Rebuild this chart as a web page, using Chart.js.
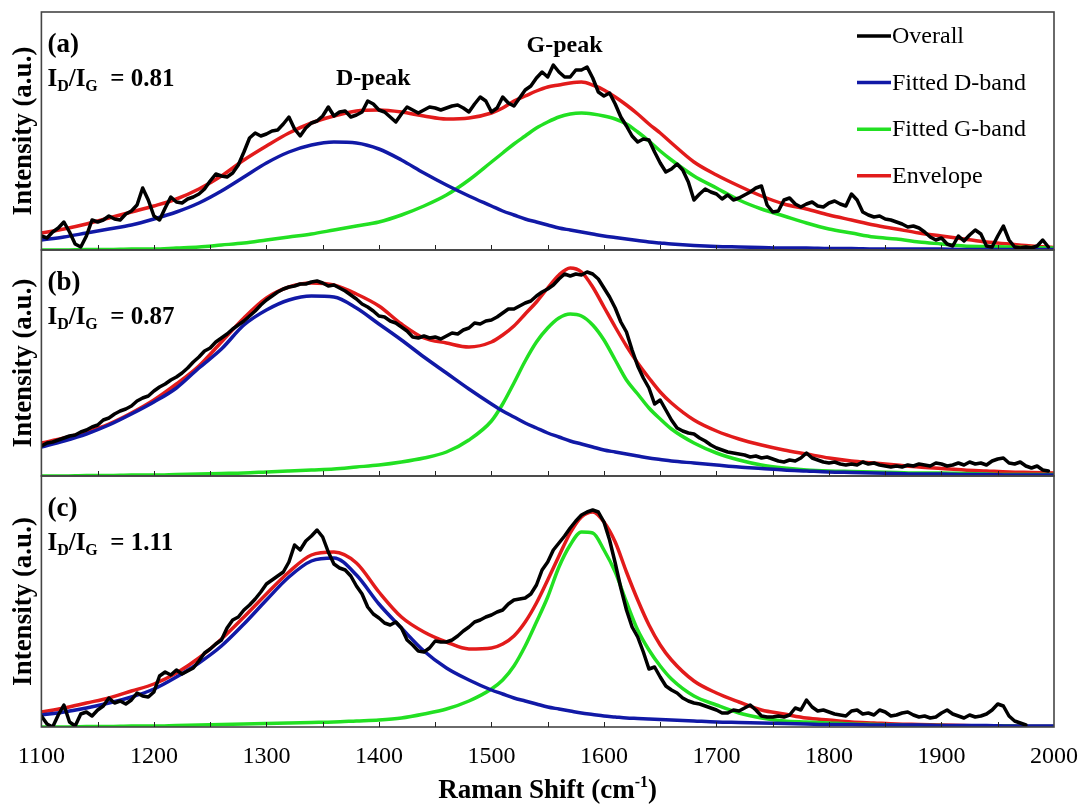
<!DOCTYPE html>
<html lang="en">
<head>
<meta charset="utf-8">
<title>Raman spectra - D/G band fitting</title>
<script src="https://cdn.jsdelivr.net/npm/chart.js@4.4.1/dist/chart.umd.min.js"></script>
<style>
  html, body { margin: 0; padding: 0; background: #ffffff; overflow: hidden; }
  #chart-raman { display: block; }
</style>
</head>
<body>
<canvas id="chart-raman" width="1087" height="805"></canvas>
<script>
(function () {
  "use strict";

  var SERIF = "'Liberation Serif', 'Times New Roman', serif";

  // Raman shift (cm-1) of the fitted curves, finer across the G band
  var fitShift = [1100, 1120, 1140, 1160, 1180, 1200, 1220, 1240, 1260, 1280, 1300, 1320, 1340, 1360, 1380, 1400, 1420, 1440, 1460, 1480, 1500,
    1510, 1520, 1530, 1540, 1550, 1560, 1570, 1580, 1590, 1600, 1610, 1620, 1630, 1640, 1650,
    1660, 1680, 1700, 1720, 1740, 1760, 1780, 1800, 1820, 1840, 1860, 1880, 1900, 1920, 1940, 1960, 1980, 2000];

  // measured spectra: first point at 1100 cm-1, one point every 5 cm-1
  var rawStart = 1100;
  var rawStep = 5;

  // (a)
  var overallA = [14, 12, 18, 22, 28, 18, 6, 3, 14, 30,
    28, 30, 34, 31, 30, 36, 39, 45, 62, 50,
    34, 30, 42, 53, 48, 47, 51, 53, 56, 61,
    69, 76, 74, 73, 77, 85, 98, 112, 117, 114,
    116, 119, 120, 126, 133, 121, 114, 122, 127, 129,
    134, 143, 134, 138, 139, 133, 135, 138, 149, 146,
    140, 138, 133, 128, 136, 143, 140, 137, 140, 143,
    142, 140, 142, 144, 145, 142, 138, 146, 153, 149,
    138, 142, 153, 147, 144, 152, 160, 164, 172, 178,
    173, 185, 178, 173, 173, 180, 180, 183, 172, 158,
    154, 157, 146, 133, 124, 114, 108, 111, 110, 98,
    87, 78, 81, 86, 80, 68, 50, 56, 61, 58,
    56, 51, 55, 50, 52, 55, 58, 62, 64, 45,
    38, 39, 50, 52, 46, 43, 46, 48, 44, 43,
    47, 49, 46, 44, 56, 50, 38, 35, 33, 34,
    31, 30, 28, 26, 23, 24, 22, 18, 13, 10,
    12, 6, 4, 14, 9, 15, 20, 16, 4, 3,
    14, 24, 10, 3, 2, 3, 2, 4, 10, 3];
  var dBandA = [10, 13, 17, 21, 25, 31, 38, 47, 59, 73, 87, 98, 105, 108, 107, 101, 90, 77, 65, 54, 44,
    39, 35, 31, 28, 25, 22, 20, 18, 16, 14, 12.5, 11, 9.5, 8, 7,
    6, 4.5, 3.5, 3, 2.5, 2, 2, 1.5, 1.5, 1, 1, 1, 1, 0.5, 0.5, 0.5, 0.5, 0.5];
  var gBandA = [0, 0, 0.5, 0.5, 1, 1, 2, 3, 5, 7, 10, 13, 16, 20, 24, 28, 35, 44, 55, 70, 88,
    97, 106, 114, 122, 128, 133, 136, 137, 136, 134, 131, 126, 118, 109, 99,
    90, 74, 62, 50, 41, 34, 27, 21, 17, 13, 11, 8, 6, 4, 3.5, 3, 2.5, 2];
  var envelopeA = [17, 21, 26, 32, 38, 44, 51, 61, 74, 90, 104, 117, 127, 134, 139, 140, 138, 134, 131, 132, 137,
    142, 149, 154, 159, 163, 165, 167, 168, 165, 160, 153, 145, 136, 126, 117,
    107, 88, 75, 64, 54, 46, 41, 35, 30, 25, 21, 17, 14, 11, 8, 6, 4, 2.5];

  // (b)
  var overallB = [30, 33, 34, 36, 38, 40, 41, 44, 46, 49,
    51, 56, 58, 62, 65, 67, 70, 75, 78, 80,
    85, 89, 92, 96, 99, 103, 108, 114, 119, 125,
    128, 134, 138, 142, 147, 151, 155, 160, 165, 171,
    176, 180, 184, 187, 189, 190, 192, 192, 194, 195,
    193, 190, 191, 188, 185, 181, 177, 172, 169, 165,
    160, 159, 155, 153, 149, 145, 139, 138, 140, 138,
    139, 137, 140, 143, 142, 146, 148, 153, 152, 155,
    156, 159, 163, 167, 167, 170, 173, 175, 180, 184,
    187, 191, 197, 202, 200, 202, 201, 204, 202, 197,
    188, 179, 168, 154, 144, 126, 110, 98, 88, 72,
    76, 66, 56, 48, 45, 43, 42, 38, 35, 31,
    28, 26, 24, 23, 22, 21, 19, 20, 18, 19,
    17, 15, 14, 16, 15, 18, 23, 18, 16, 14,
    13, 14, 12, 11, 12, 11, 14, 12, 13, 11,
    10, 9, 10, 9, 11, 10, 12, 11, 10, 13,
    12, 10, 11, 13, 11, 14, 12, 13, 11, 15,
    17, 18, 13, 12, 14, 10, 8, 10, 6, 5];
  var dBandB = [29, 35, 42, 51, 62, 74, 88, 108, 127, 151, 166, 176, 180, 179, 168, 152, 136, 119, 103, 87, 72,
    65, 59, 53, 48, 43, 39, 35, 32, 29, 26, 24, 22, 20, 18, 16.5,
    15, 13, 11, 9, 7.5, 6, 5, 4, 3.5, 3, 2.5, 2, 2, 1.5, 1.5, 1, 1, 1];
  var gBandB = [0, 0, 0.5, 0.5, 1, 1, 1.5, 2, 2.5, 3, 4, 5, 6, 7, 9, 11, 14, 18, 24, 36, 55,
    72, 93, 115, 134, 148, 158, 162, 160, 151, 136, 116, 96, 82, 68, 57,
    47, 33, 23, 16, 11, 8, 6, 5, 4.5, 4, 3.5, 3, 3, 2.5, 2, 1.5, 1.5, 1.5];
  var envelopeB = [33, 38, 44, 52, 63, 76, 92, 110, 134, 158, 178, 189, 193, 191, 182, 170, 152, 138, 133, 129, 134,
    141, 150, 162, 174, 188, 201, 208, 204, 189, 169, 149, 130, 113, 98, 84,
    73, 56, 45, 37, 31, 26, 22, 18, 15, 13, 11, 9, 7.5, 6, 5, 4, 3.5, 3];

  // (c)
  var overallC = [11, 3, 0, 12, 22, 5, 1, 13, 15, 11,
    17, 21, 29, 24, 26, 23, 27, 34, 31, 30,
    35, 51, 55, 52, 57, 53, 56, 59, 66, 74,
    78, 83, 87, 99, 107, 110, 117, 122, 128, 135,
    143, 147, 151, 155, 165, 182, 177, 186, 191, 197,
    190, 175, 163, 159, 157, 151, 141, 133, 120, 113,
    109, 104, 102, 105, 99, 87, 82, 76, 75, 79,
    86, 85, 85, 87, 91, 96, 100, 105, 107, 110,
    112, 115, 117, 123, 127, 128, 129, 133, 142, 157,
    165, 177, 184, 191, 199, 206, 212, 215, 217, 215,
    205, 187, 164, 139, 117, 100, 90, 75, 58, 60,
    50, 41, 37, 34, 29, 26, 24, 23, 21, 19,
    17, 14, 14, 17, 16, 19, 22, 17, 11, 10,
    10, 11, 10, 12, 19, 17, 27, 20, 16, 17,
    15, 13, 12, 11, 16, 17, 13, 14, 12, 17,
    15, 11, 12, 14, 15, 12, 10, 11, 9, 10,
    14, 17, 13, 11, 9, 12, 10, 11, 13, 17,
    23, 21, 11, 6, 4, 2];
  var dBandC = [12, 15, 19, 24, 30, 38, 50, 64, 81, 103, 127, 150, 166, 169, 152, 123, 99, 76, 59, 47, 37,
    33, 29, 26, 23, 20, 18, 16, 14, 12.5, 11, 10, 9, 8.5, 8, 7.5,
    7, 6, 5, 4.5, 4, 3.5, 3, 2.5, 2.5, 2, 2, 2, 1.5, 1.5, 1.5, 1, 1, 1];
  var gBandC = [0, 0, 0.5, 0.5, 1, 1, 1.5, 2, 2.5, 3, 3.5, 4, 4.5, 5, 6, 7, 9, 13, 18, 26, 38,
    47, 61, 81, 105, 130, 160, 182, 195, 194, 177, 155, 125, 97, 77, 61,
    48, 31, 22, 14, 9, 6, 5, 4, 3, 2.5, 2, 1.5, 1.5, 1, 1, 1, 0.5, 0.5];
  var envelopeC = [15, 19, 24, 29, 36, 43, 54, 69, 88, 110, 133, 155, 172, 175, 164, 135, 110, 95, 85, 78, 79,
    83, 91, 105, 124, 147, 171, 194, 210, 215, 205, 185, 155, 127, 102, 82,
    67, 46, 34, 25, 17, 13, 9, 7, 5, 4, 3, 2.5, 2, 1.5, 1, 1, 0.5, 0.5];

  var seriesNames = ["Overall", "Fitted D-band", "Fitted G-band", "Envelope"];
  var seriesColors = ["#000000", "#1119a6", "#22e022", "#e21b1b"];

  var panelIds = ["yA", "yB", "yC"];
  var panelTags = ["(a)", "(b)", "(c)"];
  var ratioValues = ["0.81", "0.87", "1.11"];
  var panelRange = [238, 226, 251];

  var peakNames = ["D-peak", "G-peak"];
  var peakShift = [1395, 1565];
  var peakLevel = [165, 198];

  var minorStep = 50;

  function rawPoints(values) {
    return values.map(function (v, i) {
      return { x: rawStart + i * rawStep, y: v };
    });
  }

  function fitPoints(values) {
    return values.map(function (v, i) {
      return { x: fitShift[i], y: v };
    });
  }

  function makeLine(k, points, axisId) {
    return {
      label: seriesNames[k],
      data: points,
      yAxisID: axisId,
      borderColor: seriesColors[k],
      backgroundColor: seriesColors[k],
      borderWidth: 3.5,
      borderJoinStyle: "round",
      borderCapStyle: "round",
      pointRadius: 0,
      fill: false,
      tension: 0,
      cubicInterpolationMode: k === 0 ? "default" : "monotone",
    };
  }

  function panelDatasets(axisId, overall, dBand, gBand, envelope) {
    return [
      makeLine(0, rawPoints(overall), axisId),
      makeLine(1, fitPoints(dBand), axisId),
      makeLine(2, fitPoints(gBand), axisId),
      makeLine(3, fitPoints(envelope), axisId),
    ];
  }

  function panelAxis(p) {
    return {
      type: "linear",
      position: "left",
      stack: "panels",
      stackWeight: panelRange[p],
      min: 0,
      max: panelRange[p],
      grid: { display: false, drawTicks: false },
      border: { display: false },
      ticks: { display: false },
      title: {
        display: true,
        text: "Intensity (a.u.)",
        color: "#000",
        font: { family: SERIF, size: 27, weight: "bold" },
        padding: { top: 0, bottom: 1 },
      },
    };
  }

  // text made of runs, e.g. sub- and superscripts
  function runsWidth(ctx, runs) {
    var w = 0;
    runs.forEach(function (r) {
      ctx.font = r.font;
      w += ctx.measureText(r.text).width;
    });
    return w;
  }

  function drawRuns(ctx, runs, x, y) {
    runs.forEach(function (r) {
      ctx.font = r.font;
      ctx.fillText(r.text, x, y + (r.dy || 0));
      x += ctx.measureText(r.text).width;
    });
  }

  var panelDecor = {
    id: "panelDecor",
    afterDatasetsDraw: function (chart) {
      var ctx = chart.ctx;
      var area = chart.chartArea;
      var xScale = chart.scales.x;
      var bold = function (size) { return "bold " + size + "px " + SERIF; };

      ctx.save();
      ctx.fillStyle = "#000";
      ctx.textAlign = "left";
      ctx.textBaseline = "alphabetic";

      panelIds.forEach(function (id, p) {
        var yScale = chart.scales[id];

        // frame of the panel
        ctx.strokeStyle = "#454545";
        ctx.lineWidth = 1.6;
        ctx.strokeRect(area.left, yScale.top, area.right - area.left, yScale.bottom - yScale.top);

        // inward tick marks along the panel bottom
        ctx.strokeStyle = "#222";
        ctx.lineWidth = 1;
        ctx.beginPath();
        for (var v = xScale.min + minorStep; v < xScale.max; v += minorStep) {
          var px = Math.round(xScale.getPixelForValue(v)) + 0.5;
          ctx.moveTo(px, yScale.bottom);
          ctx.lineTo(px, yScale.bottom - 5);
        }
        ctx.stroke();

        ctx.font = bold(27);
        ctx.fillText(panelTags[p], area.left + 6, yScale.top + 40);

        drawRuns(ctx, [
          { text: "I", font: bold(25) },
          { text: "D", font: bold(16), dy: 5 },
          { text: "/I", font: bold(25) },
          { text: "G", font: bold(16), dy: 5 },
          { text: "  = " + ratioValues[p], font: bold(25) },
        ], area.left + 6, yScale.top + 74);
      });

      // peak names over panel (a)
      var yTop = chart.scales.yA;
      ctx.textAlign = "center";
      ctx.font = bold(24);
      peakNames.forEach(function (name, k) {
        ctx.fillText(name, xScale.getPixelForValue(peakShift[k]), yTop.getPixelForValue(peakLevel[k]));
      });

      // legend inside panel (a)
      ctx.textAlign = "left";
      ctx.textBaseline = "middle";
      ctx.font = "24px " + SERIF;
      seriesNames.forEach(function (name, k) {
        var ly = area.top + 24 + k * 46.6;
        ctx.strokeStyle = seriesColors[k];
        ctx.lineWidth = 3.5;
        ctx.beginPath();
        ctx.moveTo(area.right - 197, ly);
        ctx.lineTo(area.right - 163, ly);
        ctx.stroke();
        ctx.fillText(name, area.right - 162, ly + 1);
      });

      // x axis title with superscript
      ctx.textBaseline = "alphabetic";
      var titleRuns = [
        { text: "Raman Shift (cm", font: bold(27) },
        { text: "-1", font: bold(16), dy: -11 },
        { text: ")", font: bold(27) },
      ];
      var tw = runsWidth(ctx, titleRuns);
      drawRuns(ctx, titleRuns, (area.left + area.right) / 2 - tw / 2, 798);

      ctx.restore();
    },
  };

  Chart.defaults.color = "#000";
  Chart.defaults.font.family = SERIF;

  var datasets = []
    .concat(panelDatasets("yA", overallA, dBandA, gBandA, envelopeA))
    .concat(panelDatasets("yB", overallB, dBandB, gBandB, envelopeB))
    .concat(panelDatasets("yC", overallC, dBandC, gBandC, envelopeC));

  new Chart(document.getElementById("chart-raman"), {
    type: "line",
    data: { datasets: datasets },
    options: {
      responsive: false,
      animation: false,
      events: [],
      devicePixelRatio: 1,
      layout: { padding: { left: 8, right: 33, top: 12, bottom: 18 } },
      plugins: {
        legend: { display: false },
        tooltip: { enabled: false },
      },
      scales: {
        x: {
          type: "linear",
          position: "bottom",
          min: 1100,
          max: 2000,
          grid: { display: false, drawTicks: false },
          border: { display: false },
          ticks: {
            stepSize: 100,
            autoSkip: false,
            maxRotation: 0,
            padding: 0,
            color: "#000",
            // tall line box keeps the labels clear of the bottom panel
            font: { family: SERIF, size: 24, lineHeight: 2.5 },
            callback: function (value) { return String(value); },
          },
        },
        // stacked bottom to top: (c), (b), (a)
        yC: panelAxis(2),
        yB: panelAxis(1),
        yA: panelAxis(0),
      },
    },
    plugins: [panelDecor],
  });
})();
</script>
</body>
</html>
